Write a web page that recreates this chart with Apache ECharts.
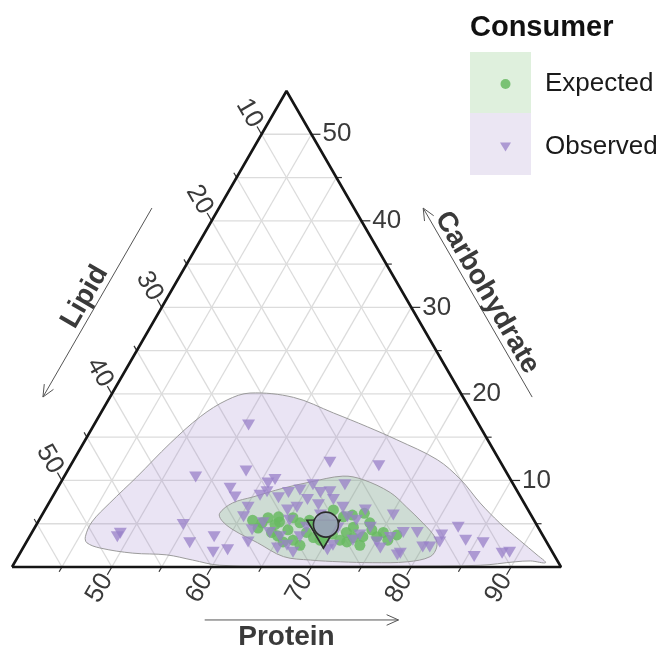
<!DOCTYPE html>
<html><head><meta charset="utf-8">
<script src="https://cdn.jsdelivr.net/npm/echarts@6/dist/echarts.min.js"></script>
<style>html,body{margin:0;padding:0;background:#fff}#c{width:660px;height:649px}</style>
</head><body><div id="c"></div>
<script>
// ---- ternary ranges and ticks ----
const proteinRange = [40, 95];
const carbRange = [0, 55];
const lipidRange = [5, 60];
const gridStep = 5;
const proteinTicks = [50, 60, 70, 80, 90];
const lipidTicks = [10, 20, 30, 40, 50];
const carbTicks = [10, 20, 30, 40, 50];
const axisTitles = ['Protein', 'Lipid', 'Carbohydrate'];
const legendTitle = 'Consumer';
const seriesNames = ['Expected', 'Observed'];

// ---- data (protein %, carbohydrate %; lipid = remainder) ----
const expectedProtein = [61.4,62.5,64.0,64.2,65.3,65.5,66.3,67.5,66.6,65.7,68.5,69.3,68.9,70.3,71.1,71.5,72.5,71.3,63.9,62.8,63.8,72.2,71.9,73.4,73.9,74.8,73.6,72.1,76.7,73.3,75.2,76.1,62.4,67.1,68.6,67.6,64.8,70.2];
const expectedCarb    = [5.4,5.1,4.0,5.2,5.7,4.3,5.1,4.0,3.1,2.9,3.4,3.1,6.6,5.8,6.0,4.0,3.4,3.1,4.9,5.7,5.8,6.2,4.6,3.5,4.3,3.5,2.5,2.9,3.7,5.1,4.0,3.1,4.5,5.4,5.4,2.5,3.6,3.8];

const observedProtein = [55.5,57.9,53.2,57.3,58.3,48.9,48.8,54.7,56.4,58.5,59.3,60.6,60.3,60.2,62.2,65.8,70.9,75.2,77.2,78.6,81.2,81.4,82.4,83.9,85.8,85.7,88.3,89.0,80.0,80.7,78.1,75.8,60.8,61.3,60.7,63.4,62.7,64.4,65.4,66.6,67.5,68.3,67.1,65.7,65.1,64.3,62.6,63.8,65.1,66.3,67.1,67.2,67.3,65.5,69.7,70.7,71.8,72.6,70.9,70.6,61.2,68.6,72.1,73.6,73.0,75.1,61.9,67.9,70.4,65.1,76.2,77.9];
const observedCarb    = [16.4,11.1,10.4,9.1,8.1,3.9,3.5,4.9,2.8,3.5,1.7,2.0,5.8,6.9,2.9,12.1,11.7,6.0,4.0,4.0,3.7,2.9,4.6,3.1,2.8,1.2,1.6,1.7,2.3,2.3,1.6,2.2,9.7,10.1,8.3,8.6,8.0,8.9,9.5,8.6,8.7,7.8,7.2,7.8,6.9,6.6,5.1,4.0,3.5,2.5,3.5,4.6,1.7,2.2,6.9,5.8,5.4,3.1,2.5,2.0,8.7,9.5,6.6,4.6,3.7,2.9,4.3,6.0,4.5,5.4,3.4,1.4];

const meanExpected = [69.0, 4.9];
const meanObserved = [69.3, 3.8];

const contourObservedProtein = [45.6,45.4,46.1,47.3,48.7,50.2,51.9,53.8,58.4,63.3,67.5,71.2,76.4,79.9,83.2,86.3,89.3,91.9,93.2,91.6,90.1,86.8,78.9,68.8,60.7,57.7,54.8,51.3,47.7,46.1];
const contourObservedCarb    = [3.5,5.2,7.4,10.4,14.3,17.4,19.3,20.1,19.6,17.8,16.2,14.7,12.4,10.1,7.4,5.1,3.1,1.4,0.5,0.7,0.6,0.2,0.1,0.1,0.2,0.8,1.4,1.6,2.2,2.8];
const contourExpectedProtein = [57.7,58.4,60.1,62.6,64.9,67.9,70.1,73.6,76.1,78.6,80.7,81.4,81.3,79.3,75.9,72.6,69.5,66.6,63.2,60.0,58.3];
const contourExpectedCarb    = [6.2,7.4,8.1,9.1,9.8,10.5,10.1,8.6,6.9,5.1,3.4,2.3,1.2,0.6,0.5,0.6,0.8,1.2,2.8,4.3,5.4];

// ---- colours ----
const GREEN = 'rgba(104,186,98,0.85)';
const PURPLE = 'rgba(152,128,200,0.75)';
const GREEN_FILL = 'rgba(110,190,100,0.22)';
const PURPLE_FILL = 'rgba(150,120,200,0.2)';
const FONT = '"Liberation Sans", Arial, sans-serif';
const TXT = '#3a3a3a';
const DOWN_TRI = 'path://M0,0L12,0L6,10Z';

// ---- ternary -> cartesian ----
const S3 = Math.sqrt(3) / 2;
function toXY(p, c) { return [p + (c - carbRange[0]) / 2, (c - carbRange[0]) * S3]; }
const V_BL = toXY(proteinRange[0], carbRange[0]);
const V_BR = toXY(proteinRange[1], carbRange[0]);
const V_T = toXY(proteinRange[0], carbRange[1]);
const edges = {
  bottom: {a: V_BL, b: V_BR, n: [0, -1]},
  left: {a: V_BL, b: V_T, n: [-S3, 0.5]},
  right: {a: V_BR, b: V_T, n: [S3, 0.5]}
};
function edgePt(e, t, off) {
  const E = edges[e];
  return [E.a[0] + (E.b[0] - E.a[0]) * t + E.n[0] * off, E.a[1] + (E.b[1] - E.a[1]) * t + E.n[1] * off];
}

// grid lines
const gridSegs = [];
for (let p = proteinRange[0] + gridStep; p < proteinRange[1]; p += gridStep) {
  gridSegs.push([...toXY(p, carbRange[0]), ...toXY(p, 100 - lipidRange[0] - p)]);
}
for (let c = carbRange[0] + gridStep; c < carbRange[1]; c += gridStep) {
  gridSegs.push([...toXY(proteinRange[0], c), ...toXY(100 - lipidRange[0] - c, c)]);
}
for (let L = lipidRange[0] + gridStep; L < lipidRange[1]; L += gridStep) {
  gridSegs.push([...toXY(100 - L, carbRange[0]), ...toXY(proteinRange[0], 100 - L - proteinRange[0])]);
}

// ticks
const tickSegs = [];
const tickLabels = [];
const dP = [-0.5, -S3], dL = [-0.5, S3], dC = [1, 0];
function addTick(pt, d, major) {
  const len = major ? 0.9 : 0.55;
  tickSegs.push([pt[0], pt[1], pt[0] + d[0] * len, pt[1] + d[1] * len]);
}
for (let p = proteinRange[0] + gridStep; p < proteinRange[1]; p += gridStep) addTick(toXY(p, carbRange[0]), dP, p % 10 === 0);
for (let L = lipidRange[0] + gridStep; L < lipidRange[1]; L += gridStep) addTick(toXY(proteinRange[0], 100 - L - proteinRange[0]), dL, L % 10 === 0);
for (let c = carbRange[0] + gridStep; c < carbRange[1]; c += gridStep) addTick(toXY(100 - lipidRange[0] - c, c), dC, c % 10 === 0);

proteinTicks.forEach(p => {
  const pt = toXY(p, carbRange[0]);
  tickLabels.push({value: [pt[0] + dP[0] * 2.45, pt[1] + dP[1] * 2.45], label: {formatter: String(p), rotate: 60, align: 'center', verticalAlign: 'middle'}});
});
lipidTicks.forEach(L => {
  const pt = toXY(proteinRange[0], 100 - L - proteinRange[0]);
  tickLabels.push({value: [pt[0] + dL[0] * 2.45, pt[1] + dL[1] * 2.45], label: {formatter: String(L), rotate: -60, align: 'center', verticalAlign: 'middle'}});
});
carbTicks.forEach(c => {
  const pt = toXY(100 - lipidRange[0] - c, c);
  tickLabels.push({value: [pt[0] + 1.1, pt[1]], label: {formatter: String(c), rotate: 0, align: 'left', verticalAlign: 'middle'}});
});

// axis titles and arrows
const titleData = [
  {value: edgePt('bottom', 0.5, 7.0), label: {formatter: axisTitles[0], rotate: 0}},
  {value: edgePt('left', 0.492, 7.2), label: {formatter: axisTitles[1], rotate: 60}},
  {value: edgePt('right', 0.5, 7.3), label: {formatter: axisTitles[2], rotate: -60}}
];
const arrowSegs = [
  [...edgePt('bottom', 0.351, 5.3), ...edgePt('bottom', 0.704, 5.3)],
  [...edgePt('left', 0.693, 5.82), ...edgePt('left', 0.296, 5.82)],
  [...edgePt('right', 0.294, 6.0), ...edgePt('right', 0.691, 6.0)]
];

const expectedData = expectedProtein.map((p, i) => toXY(p, expectedCarb[i]));
const observedData = observedProtein.map((p, i) => toXY(p, observedCarb[i]));
const obsPoly = contourObservedProtein.map((p, i) => toXY(p, contourObservedCarb[i]));
const expPoly = contourExpectedProtein.map((p, i) => toXY(p, contourExpectedCarb[i]));

function segRender(style) {
  return function (params, api) {
    const a = api.coord([api.value(0), api.value(1)]);
    const b = api.coord([api.value(2), api.value(3)]);
    return {type: 'line', silent: true, shape: {x1: a[0], y1: a[1], x2: b[0], y2: b[1]}, style: style};
  };
}
function polyRender(pts, fill) {
  return function (params, api) {
    if (params.dataIndex !== 0) return null;
    return {type: 'polygon', silent: true,
      shape: {points: pts.map(q => api.coord(q)), smooth: 0.35},
      style: {fill: fill, stroke: '#9c9c9c', lineWidth: 1}};
  };
}
function arrowRender(params, api) {
  const a = api.coord([api.value(0), api.value(1)]);
  const b = api.coord([api.value(2), api.value(3)]);
  const ang = Math.atan2(b[1] - a[1], b[0] - a[0]);
  const h = 13, w = 0.42;
  const p1 = [b[0] - h * Math.cos(ang - w), b[1] - h * Math.sin(ang - w)];
  const p2 = [b[0] - h * Math.cos(ang + w), b[1] - h * Math.sin(ang + w)];
  return {type: 'group', silent: true, children: [
    {type: 'line', shape: {x1: a[0], y1: a[1], x2: b[0], y2: b[1]}, style: {stroke: '#555', lineWidth: 1}},
    {type: 'polyline', shape: {points: [p1, b, p2]}, style: {stroke: '#555', lineWidth: 1, fill: null}}
  ]};
}

const chart = echarts.init(document.getElementById('c'), null, {renderer: 'canvas'});
chart.setOption({
  animation: false,
  backgroundColor: '#ffffff',
  textStyle: {fontFamily: FONT},
  grid: {left: 12, top: 91, width: 549, height: 476, containLabel: false},
  xAxis: {type: 'value', min: V_BL[0], max: V_BR[0], show: false},
  yAxis: {type: 'value', min: 0, max: V_T[1], show: false},
  title: {text: legendTitle, left: 470, top: 13, padding: 0,
    textStyle: {fontFamily: FONT, fontSize: 29, fontWeight: 'bold', color: '#111'}},
  legend: {orient: 'vertical', left: 495, top: 64, itemWidth: 11, itemHeight: 10, itemGap: 33,
    selectedMode: false, z: 5,
    textStyle: {fontFamily: FONT, fontSize: 26, color: '#1a1a1a', lineHeight: 30, padding: [0, 0, 0, 29]},
    data: [{name: seriesNames[0], icon: 'circle'}, {name: seriesNames[1], icon: DOWN_TRI}]},
  graphic: [
    {type: 'rect', left: 470, top: 52, z: 0, shape: {width: 61, height: 61}, style: {fill: 'rgb(223,240,221)'}},
    {type: 'rect', left: 470, top: 113, z: 0, shape: {width: 61, height: 62}, style: {fill: 'rgb(235,230,243)'}}
  ],
  series: [
    {type: 'custom', name: 'grid', clip: false, z: 1, renderItem: segRender({stroke: '#dcdcdc', lineWidth: 1.3}),
      data: gridSegs, encode: {x: [0, 2], y: [1, 3]}},
    {type: 'custom', name: 'contourObs', clip: false, z: 2, renderItem: polyRender(obsPoly, PURPLE_FILL),
      data: obsPoly},
    {type: 'custom', name: 'contourExp', clip: false, z: 2, renderItem: polyRender(expPoly, GREEN_FILL),
      data: expPoly},
    {type: 'scatter', name: seriesNames[0], clip: false, z: 3, symbol: 'circle', symbolSize: 11,
      itemStyle: {color: GREEN, opacity: 1}, data: expectedData},
    {type: 'scatter', name: seriesNames[1], clip: false, z: 4, symbol: DOWN_TRI, symbolSize: [13, 11],
      itemStyle: {color: PURPLE, opacity: 1}, data: observedData},
    {type: 'scatter', name: 'meanObserved', clip: false, z: 5, symbol: DOWN_TRI, symbolSize: [33, 28],
      itemStyle: {color: 'rgb(104,186,100)', borderColor: '#2b2b2b', borderWidth: 1.6, opacity: 1},
      data: [toXY(meanObserved[0], meanObserved[1])]},
    {type: 'scatter', name: 'meanExpected', clip: false, z: 6, symbol: 'circle', symbolSize: 25,
      itemStyle: {color: 'rgba(155,163,184,0.92)', borderColor: '#2b2b2b', borderWidth: 1.6, opacity: 1},
      data: [toXY(meanExpected[0], meanExpected[1])]},
    {type: 'line', name: 'frame', clip: false, z: 7, symbol: 'none', silent: true,
      lineStyle: {color: '#151515', width: 2.6},
      data: [V_BL, V_BR, V_T, V_BL]},
    {type: 'custom', name: 'ticks', clip: false, z: 7, renderItem: segRender({stroke: '#333', lineWidth: 1.2}),
      data: tickSegs, encode: {x: [0, 2], y: [1, 3]}},
    {type: 'scatter', name: 'tickLabels', clip: false, z: 8, symbolSize: 0, silent: true,
      itemStyle: {opacity: 1},
      label: {show: true, position: [0, 0], fontFamily: FONT, fontSize: 26, color: TXT},
      data: tickLabels},
    {type: 'scatter', name: 'axisTitles', clip: false, z: 8, symbolSize: 0, silent: true,
      itemStyle: {opacity: 1},
      label: {show: true, position: [0, 0], align: 'center', verticalAlign: 'middle',
        fontFamily: FONT, fontSize: 28, fontWeight: 'bold', color: TXT},
      data: titleData},
    {type: 'custom', name: 'arrows', clip: false, z: 8, renderItem: arrowRender,
      data: arrowSegs, encode: {x: [0, 2], y: [1, 3]}}
  ]
});
</script></body></html>
